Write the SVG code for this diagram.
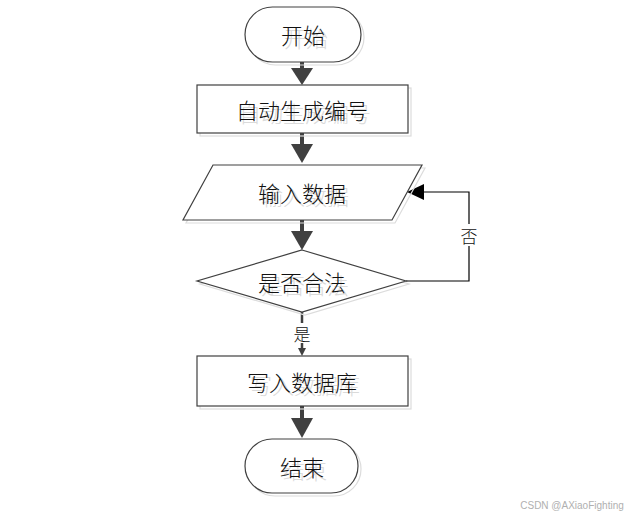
<svg xmlns="http://www.w3.org/2000/svg" width="633" height="520" viewBox="0 0 633 520">
<style>
.shape{fill:#fff;stroke:#404040;stroke-width:1.2}
.shadow{fill:none;stroke:#dcdcdc;stroke-width:1.2}
.t{font-family:"Noto Sans CJK SC","Noto Sans",sans-serif;font-weight:300;font-size:22px;fill:#111;text-anchor:middle;dominant-baseline:central}
.ts{font-family:"Noto Sans CJK SC","Noto Sans",sans-serif;font-weight:300;font-size:22px;fill:#dadada;text-anchor:middle;dominant-baseline:central}
.lbl{font-family:"Noto Sans CJK SC","Noto Sans",sans-serif;font-weight:300;font-size:17px;fill:#111;text-anchor:middle;dominant-baseline:central}
.thick{stroke:#404040;stroke-width:4;fill:none}
.thin{stroke:#000;stroke-width:1.2;fill:none}
</style>
<rect width="633" height="520" fill="#fff"/>
<g id="connectors">
<line class="thick" x1="302" y1="62" x2="302" y2="70"/>
<path d="M291,68 L313,68 L302,85 Z" fill="#404040"/>
<line class="thick" x1="302" y1="133" x2="302" y2="146"/>
<path d="M291,144 L313,144 L302,163 Z" fill="#404040"/>
<line class="thick" x1="302" y1="220" x2="302" y2="233"/>
<path d="M291,231 L313,231 L302,250 Z" fill="#404040"/>
<line class="thick" x1="302" y1="406" x2="302" y2="420"/>
<path d="M291,418 L313,418 L302,438 Z" fill="#404040"/>
<line x1="302" y1="312" x2="302" y2="350" stroke="#404040" stroke-width="2.5"/>
<path d="M298,348 L306,348 L302,356 Z" fill="#404040"/>
<polyline class="thin" points="406,281 469,281 469,192 420,192"/>
<path d="M407,192 L424,184 L424,200 Z" fill="#000"/>
<rect x="459" y="224" width="20" height="22" fill="#fff"/>
<text class="lbl" x="469" y="235">否</text>
<rect x="292" y="323" width="20" height="20" fill="#fff"/>
<text class="lbl" x="302" y="333">是</text>
</g>
<g id="start">
<rect class="shadow" x="248" y="10" width="116" height="55" rx="27.5"/>
<rect class="shape" x="245" y="7" width="116" height="55" rx="27.5"/>
<text class="ts" x="306" y="37">开始</text>
<text class="t" x="303" y="34">开始</text>
</g>
<g id="gen">
<rect class="shadow" x="200" y="88" width="211" height="48"/>
<rect class="shape" x="197" y="85" width="211" height="48"/>
<text class="ts" x="305" y="112">自动生成编号</text>
<text class="t" x="302" y="109">自动生成编号</text>
</g>
<g id="input">
<polygon class="shadow" points="216,168 425,168 395,223 186,223"/>
<polygon class="shape" points="213,165 422,165 392,220 183,220"/>
<text class="ts" x="305" y="195">输入数据</text>
<text class="t" x="302" y="192">输入数据</text>
</g>
<g id="check">
<polygon class="shadow" points="305,253 409,284 305,315 200,284"/>
<polygon class="shape" points="302,250 406,281 302,312 197,281"/>
<text class="ts" x="305" y="284">是否合法</text>
<text class="t" x="302" y="281">是否合法</text>
</g>
<g id="write">
<rect class="shadow" x="200" y="359" width="211" height="50"/>
<rect class="shape" x="197" y="356" width="211" height="50"/>
<text class="ts" x="305" y="384">写入数据库</text>
<text class="t" x="302" y="381">写入数据库</text>
</g>
<g id="end">
<rect class="shadow" x="248" y="442" width="113" height="54" rx="27"/>
<rect class="shape" x="245" y="439" width="113" height="54" rx="27"/>
<text class="ts" x="305" y="469">结束</text>
<text class="t" x="302" y="466">结束</text>
</g>
<text x="572" y="509" font-family="'Liberation Sans',sans-serif" font-size="10" fill="#b0b0b0" text-anchor="middle">CSDN @AXiaoFighting</text>
</svg>
